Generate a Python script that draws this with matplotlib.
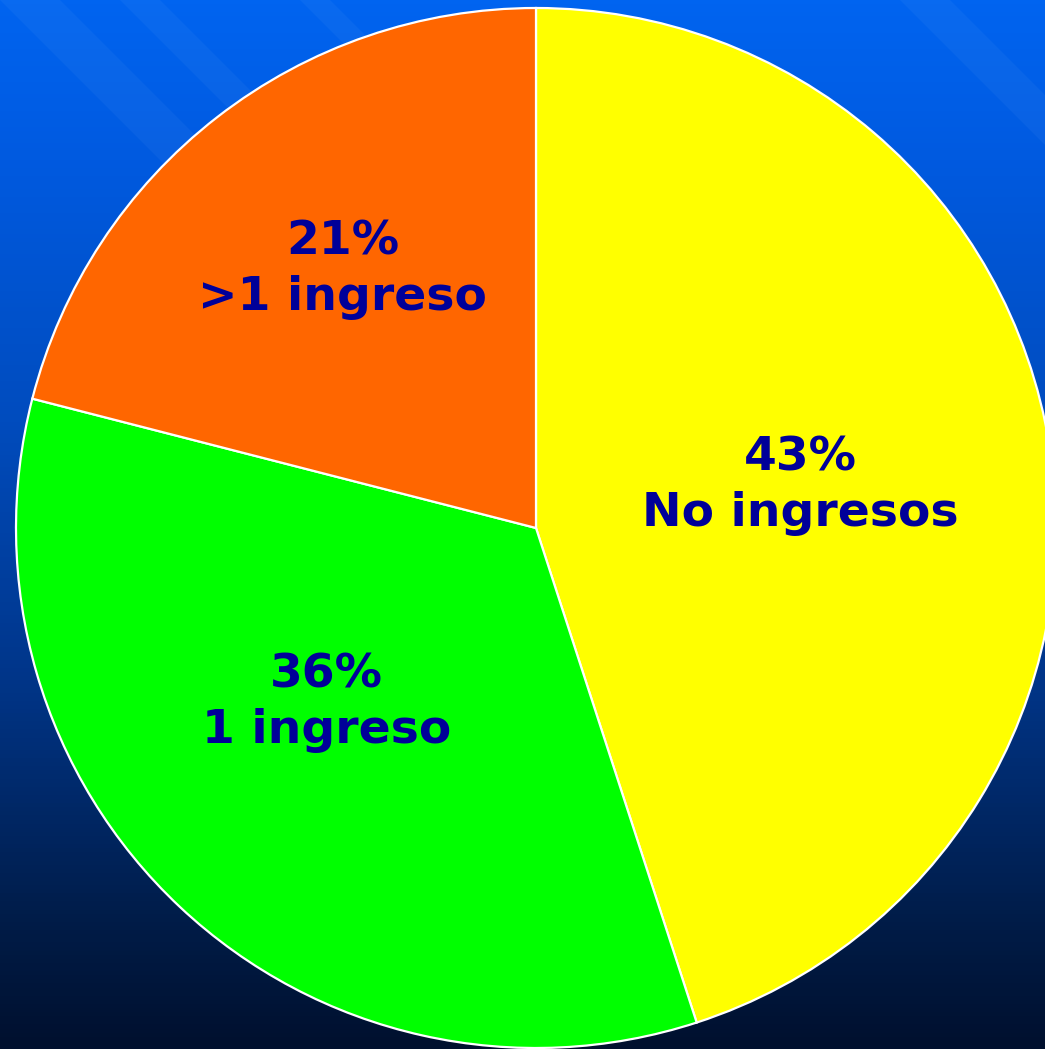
import numpy as np
import matplotlib.pyplot as plt
from matplotlib.colors import LinearSegmentedColormap

# wedge shares as drawn, and the printed labels
shares = [45, 34, 21]
pct_labels = ['43%', '36%', '21%']
names = ['No ingresos', '1 ingreso', '>1 ingreso']
colors = ['#FFFF00', '#00FF00', '#FF6600']

# label placement (fraction of radius, angle nudge in degrees)
label_dist = [0.515, 0.525, 0.62]
label_nudge = [0, -7, -1]

W, H = 1045, 1049
fig = plt.figure(figsize=(W / 100, H / 100), dpi=100)
ax = fig.add_axes([0, 0, 1, 1])
ax.set_xlim(0, W)
ax.set_ylim(0, H)
ax.axis('off')

# background gradient, dark navy at the bottom to bright blue at the top
bg = LinearSegmentedColormap.from_list('bg', [
    (0.0, '#00102E'), (0.12, '#001C48'), (0.35, '#003588'),
    (0.6, '#004CBE'), (0.85, '#005AE0'), (1.0, '#0064F0')])
grad = np.linspace(0, 1, 256).reshape(-1, 1)
ax.imshow(grad, cmap=bg, origin='lower', extent=[0, W, 0, H], aspect='auto', zorder=0)

# faint diagonal bands of the slide background
for x0, wd in [(0, 60), (120, 40), (300, 30), (900, 50)]:
    ax.fill([x0, x0 + wd, x0 + wd + 700, x0 + 700], [H, H, H - 700, H - 700],
            color='white', alpha=0.04, lw=0, zorder=0.5)

cx, cy, r = 536, H - 528, 520
wedges, _ = ax.pie(shares, colors=colors, startangle=90, counterclock=False,
                   center=(cx, cy), radius=r,
                   wedgeprops=dict(edgecolor='white', linewidth=1.6))
ax.set_xlim(0, W)
ax.set_ylim(0, H)
ax.set_aspect('auto')

for w, pct, name, d, nudge in zip(wedges, pct_labels, names, label_dist, label_nudge):
    ang = np.deg2rad((w.theta1 + w.theta2) / 2 + nudge)
    x = cx + d * r * np.cos(ang)
    y = cy + d * r * np.sin(ang)
    ax.text(x, y, pct + '\n' + name, ha='center', va='center', fontsize=34,
            fontweight='bold', color='#000099', family='DejaVu Sans',
            linespacing=1.3)

fig.savefig('out.png', dpi=100)
